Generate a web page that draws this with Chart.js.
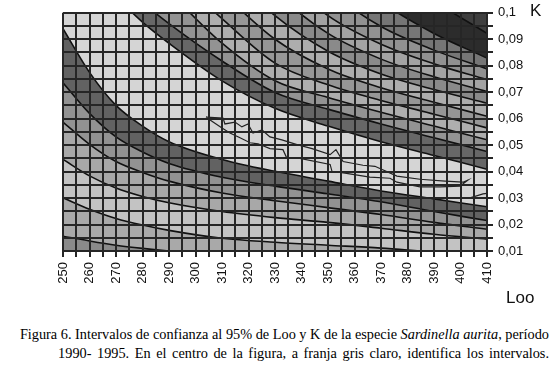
<!DOCTYPE html>
<html>
<head>
<meta charset="utf-8">
<script src="https://cdn.jsdelivr.net/npm/chart.js@4.4.1/dist/chart.umd.min.js"></script>
<style>
  html, body { margin: 0; padding: 0; background: #fff; }
  #wrap { position: relative; width: 557px; height: 376px; overflow: hidden; }
  #graf { position: absolute; left: 0; top: 0; }
  .eje { position: absolute; font-family: "Liberation Sans", Arial, sans-serif; font-size: 17px; color: #111; }
  .pie { position: absolute; right: 8px; white-space: nowrap;
    font-family: "Liberation Serif", "Times New Roman", serif; font-size: 14.3px; color: #000; }
</style>
</head>
<body>
<div id="wrap">
  <canvas id="graf" width="557" height="320"></canvas>
  <div class="eje" style="left:530px; top:1px;">K</div>
  <div class="eje" style="left:506px; top:288px;">Loo</div>
  <div class="pie" style="top:326px;">Figura 6. Intervalos de confianza al 95% de Loo y K de la especie <i>Sardinella aurita</i>, período</div>
  <div class="pie" style="top:345px; word-spacing:2px;">1990- 1995. En el centro de la figura, a franja gris claro, identifica los intervalos.</div>
</div>
<script>
// Loo donde se leyeron las curvas de nivel
const looPuntos = [250, 260, 270, 280, 290, 310, 330, 350, 370, 390, 410];

// curvas por debajo de la franja clara (de abajo hacia arriba)
const curvaL6 = [0.0156, 0.0138, 0.0122, 0.0110, 0.0100, 0.0085, 0.0074, 0.0063, 0.0052, 0.0041, 0.0029];
const curvaL5 = [0.0301, 0.0258, 0.0223, 0.0198, 0.0178, 0.0148, 0.0133, 0.0122, 0.0111, 0.0096, 0.0085];
const curvaL4 = [0.0446, 0.0384, 0.0338, 0.0306, 0.0282, 0.0249, 0.0226, 0.0208, 0.0186, 0.0163, 0.0145];
const curvaL3 = [0.0587, 0.0503, 0.0438, 0.0397, 0.0364, 0.0319, 0.0290, 0.0264, 0.0238, 0.0208, 0.0182];
const curvaL2 = [0.0736, 0.0620, 0.0531, 0.0474, 0.0431, 0.0379, 0.0345, 0.0316, 0.0286, 0.0249, 0.0215];
const curvaL1 = [0.0940, 0.0775, 0.0650, 0.0572, 0.0513, 0.0446, 0.0401, 0.0364, 0.0327, 0.0297, 0.0267];

// curvas por encima de la franja clara
const curvaU1 = [0.1338, 0.1190, 0.1063, 0.0965, 0.0885, 0.0743, 0.0639, 0.0572, 0.0513, 0.0461, 0.0409];
const curvaU2 = [0.1442, 0.1280, 0.1138, 0.1040, 0.0959, 0.0818, 0.0699, 0.0636, 0.0580, 0.0528, 0.0476];
const curvaU3 = [0.1517, 0.1390, 0.1275, 0.1170, 0.1078, 0.0885, 0.0743, 0.0680, 0.0624, 0.0572, 0.0520];
const curvaU4 = [0.1628, 0.1490, 0.1368, 0.1260, 0.1164, 0.0978, 0.0810, 0.0728, 0.0669, 0.0617, 0.0565];
const curvaU5 = [0.1740, 0.1605, 0.1480, 0.1372, 0.1275, 0.1078, 0.0900, 0.0788, 0.0717, 0.0662, 0.0609];
const curvaU6 = [0.1852, 0.1716, 0.1591, 0.1484, 0.1387, 0.1182, 0.0989, 0.0855, 0.0769, 0.0710, 0.0658];
const curvaU7 = [0.1963, 0.1828, 0.1703, 0.1595, 0.1498, 0.1286, 0.1078, 0.0922, 0.0825, 0.0758, 0.0702];
const curvaU8 = [0.2075, 0.1940, 0.1814, 0.1707, 0.1610, 0.1390, 0.1167, 0.0989, 0.0881, 0.0807, 0.0747];
const curvaU9 = [0.2186, 0.2050, 0.1926, 0.1810, 0.1703, 0.1498, 0.1264, 0.1085, 0.0948, 0.0859, 0.0788];
const curvaU10 = [0.2298, 0.2163, 0.2038, 0.1920, 0.1814, 0.1591, 0.1387, 0.1201, 0.1041, 0.0922, 0.0829];
const curvaU11 = [0.2447, 0.2311, 0.2186, 0.2069, 0.1963, 0.1740, 0.1554, 0.1387, 0.1219, 0.1048, 0.0922];

// contorno del intervalo de confianza
const icLoo = [304.0, 310.4, 311.1, 314.9, 317.5, 319.8, 321.7, 325.1, 328.1, 332.6, 338.3, 344.0, 350.8, 353.0,
  355.7, 363.2, 367.7, 376.0, 384.7, 394.2, 400.9, 402.8, 399.8, 392.3, 384.7, 376.0, 373.4, 365.8, 356.4,
  351.5, 350.8, 339.4, 334.5, 333.0, 328.1, 323.6, 320.6, 316.8, 313.0, 310.0, 305.5, 304.0];
const icK = [0.0606, 0.0602, 0.0580, 0.0587, 0.0569, 0.0580, 0.0546, 0.0557, 0.0531, 0.0520, 0.0502, 0.0487, 0.0464, 0.0483,
  0.0438, 0.0424, 0.0420, 0.0383, 0.0371, 0.0364, 0.0360, 0.0368, 0.0345, 0.0342, 0.0342, 0.0360, 0.0375, 0.0379, 0.0394,
  0.0401, 0.0427, 0.0450, 0.0450, 0.0483, 0.0487, 0.0505, 0.0509, 0.0528, 0.0546, 0.0565, 0.0595, 0.0606];
const icLoo2 = [403.6, 408.5, 410];
const icK2 = [0.0301, 0.0316, 0.0318];

// marcas de los ejes
const xMarcas = [250, 260, 270, 280, 290, 300, 310, 320, 330, 340, 350, 360, 370, 380, 390, 400, 410];
const yValores = [0.01, 0.02, 0.03, 0.04, 0.05, 0.06, 0.07, 0.08, 0.09, 0.1];
const yRotulos = ["0,01", "0,02", "0,03", "0,04", "0,05", "0,06", "0,07", "0,08", "0,09", "0,1"];

// grises de las franjas, de abajo hacia arriba
const grises = ["#8a8a8a", "#a9a9a9", "#c3c3c3", "#a8a8a8", "#929292", "#626262", "#d5d5d5",
  "#676767", "#939393", "#aeaeae", "#969696", "#adadad", "#8a8a8a", "#a3a3a3", "#919191", "#767676",
  "#2c2c2c", "#3e3e3e"];

const curvas = [curvaL6, curvaL5, curvaL4, curvaL3, curvaL2, curvaL1,
  curvaU1, curvaU2, curvaU3, curvaU4, curvaU5, curvaU6, curvaU7, curvaU8, curvaU9, curvaU10, curvaU11];

const datasets = curvas.map((k, i) => ({
  data: looPuntos.map((x, j) => ({ x, y: k[j] })),
  fill: i === 0 ? "start" : "-1",
  backgroundColor: grises[i],
  borderColor: "#111",
  borderWidth: 1.6,
  pointRadius: 0,
  cubicInterpolationMode: "monotone"
}));
datasets.push({
  data: looPuntos.map((x, j) => ({ x, y: curvaU11[j] })),
  fill: "end",
  backgroundColor: grises[17],
  borderWidth: 0,
  pointRadius: 0,
  cubicInterpolationMode: "monotone"
});
datasets.push({
  data: icLoo.map((x, j) => ({ x, y: icK[j] })),
  fill: false, borderColor: "#222", borderWidth: 1.2, pointRadius: 0, tension: 0
});
datasets.push({
  data: icLoo2.map((x, j) => ({ x, y: icK2[j] })),
  fill: false, borderColor: "#222", borderWidth: 1.2, pointRadius: 0, tension: 0
});

const fuente = { family: "'Liberation Sans', Arial, sans-serif", size: 13 };

new Chart(document.getElementById("graf"), {
  type: "line",
  data: { datasets },
  options: {
    responsive: false,
    animation: false,
    layout: { padding: { left: 63, top: 9, right: 0, bottom: 0 } },
    plugins: {
      legend: { display: false },
      tooltip: { enabled: false },
      filler: { drawTime: "beforeDatasetsDraw" }
    },
    scales: {
      x: {
        type: "linear", min: 250, max: 410,
        afterFit: (s) => { s.height = 69; },
        grid: { color: "#262626", lineWidth: 2, tickLength: 6, z: 1 },
        border: { color: "#262626", width: 2, z: 1 },
        ticks: {
          stepSize: 5, autoSkip: false, maxRotation: 90, minRotation: 90, padding: 5,
          color: "#111", font: fuente,
          callback: (v) => xMarcas.includes(v) ? String(v) : ""
        }
      },
      y: {
        type: "linear", position: "right", min: 0.01, max: 0.1,
        afterFit: (s) => { s.width = 70; },
        grid: { color: "#262626", lineWidth: 2, tickLength: 6, z: 1 },
        border: { color: "#262626", width: 2, z: 1 },
        ticks: {
          stepSize: 0.005, autoSkip: false, padding: 5, color: "#111", font: fuente,
          callback: (v) => {
            const i = yValores.findIndex((t) => Math.abs(t - v) < 1e-6);
            return i >= 0 ? yRotulos[i] : "";
          }
        }
      }
    }
  }
});
</script>
</body>
</html>
